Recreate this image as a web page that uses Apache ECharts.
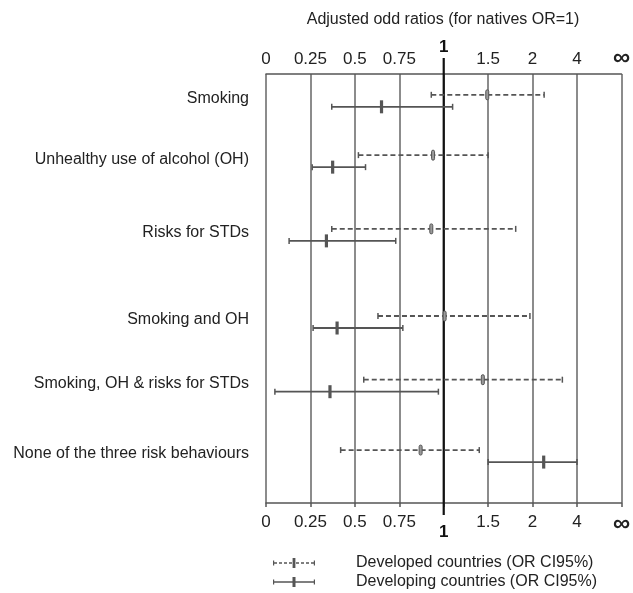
<!DOCTYPE html>
<html>
<head>
<meta charset="utf-8">
<script src="https://cdn.jsdelivr.net/npm/echarts@6/dist/echarts.min.js"></script>
<style>html,body{margin:0;padding:0;background:#fff}#chart{width:633px;height:593px}</style>
</head>
<body>
<div id="chart"></div>
<script>
// ---- data ----
const tickLabels = ['0', '0.25', '0.5', '0.75', '1', '1.5', '2', '4', '\u221E'];
const tickValues = [0, 0.25, 0.5, 0.75, 1, 1.5, 2, 4, Infinity];
const categories = [
  'Smoking',
  'Unhealthy use of alcohol (OH)',
  'Risks for STDs',
  'Smoking and OH',
  'Smoking, OH & risks for STDs',
  'None of the three risk behaviours'
];
const developedOR   = [1.49, 0.94, 0.93, 1.01, 1.44, 0.87];
const developedLow  = [0.93, 0.52, 0.37, 0.63, 0.55, 0.42];
const developedHigh = [2.52, 1.50, 1.81, 1.97, 3.34, 1.40];
const developingOR   = [0.65, 0.375, 0.34, 0.40, 0.36, 2.5];
const developingLow  = [0.37, 0.26, 0.13, 0.265, 0.05, 1.5];
const developingHigh = [1.10, 0.56, 0.73, 0.77, 0.97, 4.0];
const seriesNames = ['Developed countries (OR CI95%)', 'Developing countries (OR CI95%)'];

// ---- layout (not data) ----
const rowSlots = [0.4, 1.3, 2.4, 3.7, 4.65, 5.7];
const FONT = '"Liberation Sans", Arial, sans-serif';

// map an odds ratio onto the axis' ordinal tick scale
function toPos(v) {
  for (let i = 0; i < tickValues.length - 1; i++) {
    const a = tickValues[i], b = tickValues[i + 1];
    if (v >= a && v <= b) {
      if (b === Infinity) return i + (1 - a / v);
      return i + (v - a) / (b - a);
    }
  }
  return tickValues.length - 1;
}

const devData = categories.map((c, i) => [toPos(developedLow[i]), toPos(developedOR[i]), toPos(developedHigh[i]), rowSlots[i]]);
const dvgData = categories.map((c, i) => [toPos(developingLow[i]), toPos(developingOR[i]), toPos(developingHigh[i]), rowSlots[i]]);
const labelData = categories.map((c, i) => [0, rowSlots[i]]);

function makeErrorRenderer(dashed) {
  return function (params, api) {
    const y = api.coord([0, api.value(3)])[1] + (dashed ? -6 : 6);
    const xL = api.coord([api.value(0), 0])[0];
    const xM = api.coord([api.value(1), 0])[0];
    const xH = api.coord([api.value(2), 0])[0];
    const stroke = '#555';
    const children = [
      { type: 'line', shape: { x1: xL, y1: y, x2: xH, y2: y },
        style: { stroke: stroke, lineWidth: 1.8, lineDash: dashed ? [5, 3] : null } },
      { type: 'line', shape: { x1: xL, y1: y - 3, x2: xL, y2: y + 3 }, style: { stroke: stroke, lineWidth: 1.5 } },
      { type: 'line', shape: { x1: xH, y1: y - 3, x2: xH, y2: y + 3 }, style: { stroke: stroke, lineWidth: 1.5 } }
    ];
    if (dashed) {
      children.push({ type: 'rect', shape: { x: xM - 1.5, y: y - 5, width: 3, height: 10, r: 1.5 },
        style: { fill: '#9a9a9a', stroke: '#555', lineWidth: 1 } });
    } else {
      children.push({ type: 'rect', shape: { x: xM - 1.6, y: y - 6.5, width: 3.2, height: 13 },
        style: { fill: '#555' } });
    }
    return { type: 'group', children: children };
  };
}

const iconDashed = 'path://M0,2.5h1.2v5h-1.2z M40.8,2.5h1.2v5h-1.2z M1,4.3h3v1.4h-3z M6,4.3h3v1.4h-3z M11,4.3h3v1.4h-3z M16,4.3h3v1.4h-3z M19.6,0h2.8v10h-2.8z M23,4.3h3v1.4h-3z M28,4.3h3v1.4h-3z M33,4.3h3v1.4h-3z M38,4.3h3v1.4h-3z';
const iconSolid = 'path://M0,2.5h1.2v5h-1.2z M40.8,2.5h1.2v5h-1.2z M0,4.3h42v1.4h-42z M19.5,0h3v10h-3z';

function tickFormatter(v) {
  const i = Math.round(v);
  if (i === 4) return '{one|' + tickLabels[i] + '}';
  if (i === 8) return '{inf|' + tickLabels[i] + '}';
  return tickLabels[i] !== undefined ? tickLabels[i] : '';
}

const chart = echarts.init(document.getElementById('chart'));
chart.setOption({
  animation: false,
  backgroundColor: '#fff',
  textStyle: { fontFamily: FONT },
  graphic: [{
    type: 'text', x: 443, y: 20,
    style: { text: 'Adjusted odd ratios (for natives OR=1)', align: 'center', verticalAlign: 'middle',
      fontSize: 16, fontFamily: FONT, fill: '#222' }
  }],
  legend: {
    orient: 'vertical', left: 268, top: 553, padding: [2, 5, 0, 5],
    itemWidth: 44, itemHeight: 10, itemGap: 3,
    selectedMode: false,
    textStyle: { fontSize: 16, color: '#222', fontFamily: FONT, padding: [0, 0, 0, 35] },
    data: [{ name: seriesNames[0], icon: iconDashed }, { name: seriesNames[1], icon: iconSolid }]
  },
  grid: { left: 266, right: 10, top: 74, bottom: 90 },
  xAxis: [{
    type: 'value', position: 'top', min: 0, max: 8, interval: 1,
    axisLine: { show: true, lineStyle: { color: '#555', width: 1.5 } },
    axisTick: { show: false },
    splitLine: { show: true, showMinLine: true, showMaxLine: true, lineStyle: { color: '#666', width: 1.5 } },
    axisLabel: { formatter: tickFormatter, margin: 6, color: '#222', fontSize: 17, fontFamily: FONT,
      showMinLabel: true, showMaxLabel: true,
      rich: {
        one: { fontSize: 17, fontWeight: 'bold', color: '#111', padding: [0, 0, 12, 0], fontFamily: FONT },
        inf: { fontSize: 24, fontWeight: 'bold', color: '#222', fontFamily: FONT, lineHeight: 20 }
      } }
  }, {
    type: 'value', position: 'bottom', min: 0, max: 8, interval: 1,
    axisLine: { show: true, lineStyle: { color: '#555', width: 1.5 } },
    axisTick: { show: true, length: 4, lineStyle: { color: '#555', width: 1.5 } },
    splitLine: { show: false },
    axisLabel: { formatter: tickFormatter, margin: 11, color: '#222', fontSize: 17, fontFamily: FONT,
      showMinLabel: true, showMaxLabel: true,
      rich: {
        one: { fontSize: 17, fontWeight: 'bold', color: '#111', padding: [10, 0, 0, 0], fontFamily: FONT },
        inf: { fontSize: 24, fontWeight: 'bold', color: '#222', fontFamily: FONT, lineHeight: 20 }
      } }
  }],
  yAxis: { type: 'value', min: 0, max: 6.4, inverse: true, show: false },
  series: [{
    name: 'ref', type: 'custom', xAxisIndex: 0, data: [[toPos(1), 0]], silent: true, z: 1,
    renderItem: function (params, api) {
      const x = api.coord([api.value(0), 0])[0];
      const top = params.coordSys.y, bottom = params.coordSys.y + params.coordSys.height;
      return { type: 'line', shape: { x1: x, y1: top - 16, x2: x, y2: bottom + 12 },
        style: { stroke: '#111', lineWidth: 2.2 } };
    }
  }, {
    name: 'labels', type: 'custom', xAxisIndex: 0, data: labelData, silent: true,
    renderItem: function (params, api) {
      const p = api.coord([api.value(0), api.value(1)]);
      return { type: 'text', x: p[0] - 17, y: p[1] - 2,
        style: { text: categories[params.dataIndex], align: 'right', verticalAlign: 'middle',
          fontSize: 16, fontFamily: FONT, fill: '#222' } };
    }
  }, {
    name: seriesNames[0], type: 'custom', xAxisIndex: 0, data: devData, z: 3,
    itemStyle: { color: '#555' }, renderItem: makeErrorRenderer(true)
  }, {
    name: seriesNames[1], type: 'custom', xAxisIndex: 0, data: dvgData, z: 3,
    itemStyle: { color: '#555' }, renderItem: makeErrorRenderer(false)
  }]
});
</script>
</body>
</html>
